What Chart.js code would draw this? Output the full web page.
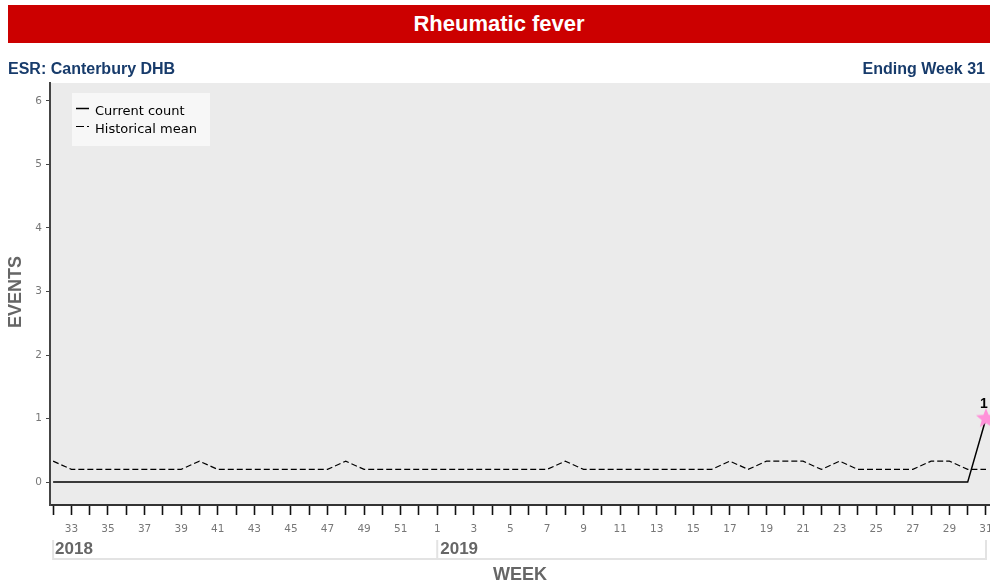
<!DOCTYPE html>
<html>
<head>
<meta charset="utf-8">
<title>Rheumatic fever</title>
<script src="https://cdn.jsdelivr.net/npm/chart.js@4.4.1/dist/chart.umd.min.js"></script>
<style>
  html, body { margin: 0; padding: 0; background: #fff; }
  #wrap { position: relative; width: 990px; height: 588px; overflow: hidden; }
  #chart { position: absolute; left: 0; top: 0; }
  .hdr {
    position: absolute; left: 8px; top: 5px; width: 982px; height: 38px;
    background: #CC0000; color: #fff; text-align: center;
    font: bold 22px "Liberation Sans", Arial, sans-serif; line-height: 38px;
  }
  .sub {
    position: absolute; top: 59px; color: #173B6B;
    font: bold 16px "Liberation Sans", Arial, sans-serif;
    line-height: 20px;
  }
  #subLeft { left: 8px; }
  #subRight { right: 5px; }
</style>
</head>
<body>
<div id="wrap">
  <canvas id="chart" width="990" height="588"></canvas>
  <div class="hdr">Rheumatic fever</div>
  <div class="sub" id="subLeft">ESR: Canterbury DHB</div>
  <div class="sub" id="subRight">Ending Week 31</div>
</div>
<script>
'use strict';

// week numbers, 2018 week 32 .. 2019 week 31
const weeks = [32, 33, 34, 35, 36, 37, 38, 39, 40, 41, 42, 43, 44, 45, 46, 47, 48, 49, 50, 51, 52,
  1, 2, 3, 4, 5, 6, 7, 8, 9, 10, 11, 12, 13, 14, 15, 16, 17, 18, 19, 20, 21, 22, 23, 24, 25, 26, 27, 28, 29, 30, 31];
const years = ['2018', '2019'];

const currentCount = [0, 0, 0, 0, 0, 0, 0, 0, 0, 0, 0, 0, 0, 0, 0, 0, 0, 0, 0, 0, 0,
  0, 0, 0, 0, 0, 0, 0, 0, 0, 0, 0, 0, 0, 0, 0, 0, 0, 0, 0, 0, 0, 0, 0, 0, 0, 0, 0, 0, 0, 0, 1];
const historicalMean = [0.33, 0.2, 0.2, 0.2, 0.2, 0.2, 0.2, 0.2, 0.33, 0.2, 0.2, 0.2, 0.2, 0.2, 0.2, 0.2, 0.33, 0.2, 0.2, 0.2, 0.2,
  0.2, 0.2, 0.2, 0.2, 0.2, 0.2, 0.2, 0.33, 0.2, 0.2, 0.2, 0.2, 0.2, 0.2, 0.2, 0.2, 0.33, 0.2, 0.33, 0.33, 0.33,
  0.2, 0.33, 0.2, 0.2, 0.2, 0.2, 0.33, 0.33, 0.2, 0.2];

const yTicks = [0, 1, 2, 3, 4, 5, 6];
const xTitle = 'WEEK';
const yTitle = 'EVENTS';

const LAST = currentCount.length - 1;
const tickFont = { family: 'DejaVu Sans', size: 10.5 };

// pink star used as the marker of the latest count
function makeStar() {
  const c = document.createElement('canvas');
  c.width = 22; c.height = 22;
  const g = c.getContext('2d');
  g.beginPath();
  for (let i = 0; i < 10; i++) {
    const r = i % 2 === 0 ? 10.5 : 4.5;
    const a = -Math.PI / 2 + i * Math.PI / 5;
    g.lineTo(11 + r * Math.cos(a), 11 + r * Math.sin(a));
  }
  g.closePath();
  g.fillStyle = '#FF91D9';
  g.fill();
  return c;
}
const star = makeStar();

const bgPlugin = {
  id: 'plotBg',
  beforeDraw(chart) {
    const { ctx, chartArea: a } = chart;
    ctx.save();
    ctx.fillStyle = '#EBEBEB';
    ctx.fillRect(a.left, a.top, a.right - a.left, a.bottom - a.top);
    ctx.restore();
  }
};

const decorPlugin = {
  id: 'decor',
  afterDraw(chart) {
    const { ctx } = chart;
    const xs = chart.scales.x;
    ctx.save();

    // legend box
    ctx.fillStyle = '#F7F7F7';
    ctx.fillRect(72, 93, 138, 53);
    ctx.strokeStyle = '#000';
    ctx.lineWidth = 1.5;
    ctx.beginPath();
    ctx.moveTo(76, 108.5); ctx.lineTo(89, 108.5);
    ctx.stroke();
    ctx.lineWidth = 1.2;
    ctx.beginPath();
    ctx.moveTo(76, 126.5); ctx.lineTo(84, 126.5);
    ctx.moveTo(87, 126.5); ctx.lineTo(89, 126.5);
    ctx.stroke();
    ctx.fillStyle = '#000';
    ctx.font = '13px "DejaVu Sans"';
    ctx.textBaseline = 'middle';
    ctx.textAlign = 'left';
    ctx.fillText(chart.data.datasets[0].label, 95, 112);
    ctx.fillText(chart.data.datasets[1].label, 95, 129.5);

    // label above the latest point
    const pt = chart.getDatasetMeta(0).data[LAST];
    ctx.font = 'bold 14px "Liberation Sans", Arial';
    ctx.textAlign = 'center';
    ctx.fillText(String(currentCount[LAST]), pt.x - 2, pt.y - 14);

    // year band
    const split = weeks.indexOf(1);
    const x0 = xs.getPixelForValue(0);
    const x1 = xs.getPixelForValue(split);
    const x2 = xs.getPixelForValue(LAST);
    ctx.strokeStyle = '#E3E3E3';
    ctx.lineWidth = 2;
    ctx.beginPath();
    ctx.moveTo(x0, 540); ctx.lineTo(x0, 559); ctx.lineTo(x2, 559); ctx.lineTo(x2, 540);
    ctx.moveTo(x1, 540); ctx.lineTo(x1, 559);
    ctx.stroke();
    ctx.fillStyle = '#666';
    ctx.font = 'bold 17px "Liberation Sans", Arial';
    ctx.textAlign = 'left';
    ctx.fillText(years[0], x0 + 2, 549.5);
    ctx.fillText(years[1], x1 + 3, 549.5);

    // axis titles
    ctx.font = 'bold 18px "Liberation Sans", Arial';
    ctx.textAlign = 'center';
    ctx.fillText(xTitle, 520, 575);
    ctx.translate(16, 292);
    ctx.rotate(-Math.PI / 2);
    ctx.fillText(yTitle, 0, 0);
    ctx.restore();
  }
};

new Chart(document.getElementById('chart'), {
  type: 'line',
  data: {
    datasets: [{
      label: 'Current count',
      data: currentCount.map((v, i) => ({ x: i, y: v })),
      borderColor: '#000',
      borderWidth: 1.5,
      tension: 0,
      pointRadius: ctx => ctx.dataIndex === LAST ? 10 : 0,
      pointStyle: ctx => ctx.dataIndex === LAST ? star : 'circle'
    }, {
      label: 'Historical mean',
      data: historicalMean.map((v, i) => ({ x: i, y: v })),
      borderColor: '#000',
      borderWidth: 1.2,
      borderDash: [6, 3],
      tension: 0,
      pointRadius: 0
    }]
  },
  options: {
    responsive: false,
    animation: false,
    devicePixelRatio: 1,
    layout: { autoPadding: false, padding: { top: 83, left: 0, right: 0, bottom: 0 } },
    plugins: { legend: { display: false }, tooltip: { enabled: false } },
    scales: {
      x: {
        type: 'linear',
        min: -0.17,
        max: 51.22,
        afterBuildTicks: s => { s.ticks = weeks.map((w, i) => ({ value: i })); },
        afterFit: s => { s.height = 83; s.paddingLeft = 0; s.paddingRight = 0; },
        grid: { drawOnChartArea: false, drawTicks: true, tickLength: 10, tickColor: '#111', tickWidth: 1.6 },
        border: { color: '#333', width: 2 },
        ticks: {
          autoSkip: false, maxRotation: 0, padding: 8, color: '#777', font: tickFont,
          callback: v => weeks[v] % 2 === 1 ? String(weeks[v]) : ''
        }
      },
      y: {
        min: -0.36,
        max: 6.28,
        afterBuildTicks: s => { s.ticks = yTicks.map(v => ({ value: v })); },
        afterFit: s => { s.width = 50; s.paddingTop = 0; s.paddingBottom = 0; },
        grid: { drawOnChartArea: false, drawTicks: true, tickLength: 4, tickColor: '#444', tickWidth: 1 },
        border: { color: '#444', width: 2 },
        ticks: { padding: 4, color: '#777', font: tickFont }
      }
    }
  },
  plugins: [bgPlugin, decorPlugin]
});
</script>
</body>
</html>
